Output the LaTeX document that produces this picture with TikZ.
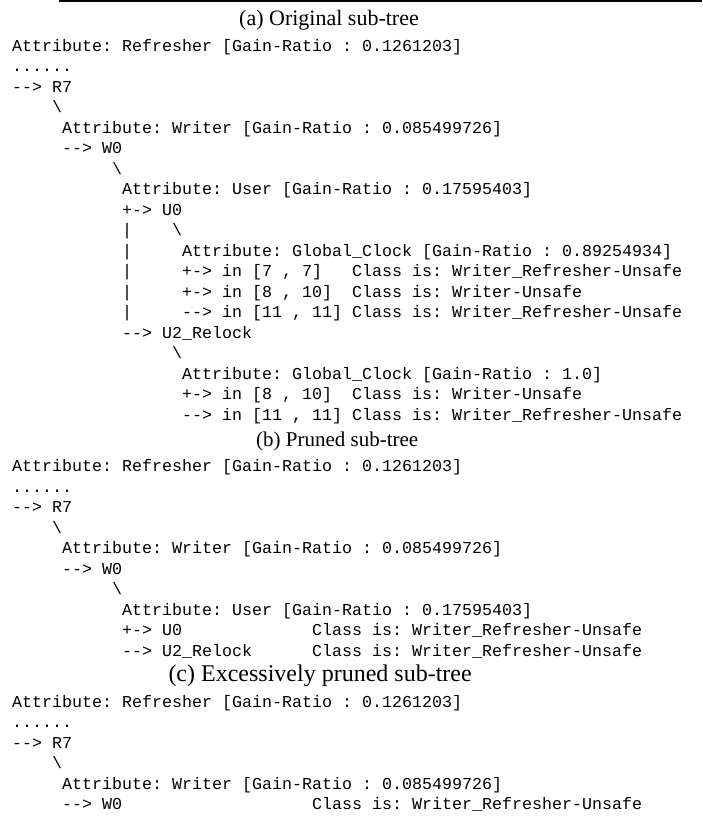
\documentclass[tikz,border=0pt]{standalone}
\usepackage{fontspec}
\setmainfont{Liberation Serif}
\setmonofont{Liberation Mono}
\begin{document}
\begin{tikzpicture}[x=1pt,y=-1pt,
  mono/.style={anchor=base west, inner sep=0pt, font=\ttfamily\fontsize{16.66}{20}\selectfont},
  captxt/.style={anchor=base west, inner sep=0pt, font=\rmfamily\fontsize{#1}{28}\selectfont},
  rulestyle/.style={line width=1.5pt}]
\useasboundingbox (0,0) rectangle (702,816);
\def\c#1{12+#1*10}
% top rule
\coordinate (rl) at (59,0.8);
\coordinate (rr) at (702,0.8);
\draw[rulestyle] (rl) -- (rr);
% ---------------- (a)
\node[captxt=22] (capa) at (239,25.5) {(a)\ Original sub-tree};
\node[mono] (a0) at (\c{0},51.3) {Attribute: Refresher [Gain-Ratio : 0.1261203]};
\node[mono] (a1) at (\c{0},71.8) {......};
\node[mono] (a2) at (\c{0},92.3) {--> R7};
\node[mono] (a3) at (\c{4},112.8) {\textbackslash};
\node[mono] (a4) at (\c{5},133.3) {Attribute: Writer [Gain-Ratio : 0.085499726]};
\node[mono] (a5) at (\c{5},153.8) {--> W0};
\node[mono] (a6) at (\c{10},174.3) {\textbackslash};
\node[mono] (a7) at (\c{11},194.8) {Attribute: User [Gain-Ratio : 0.17595403]};
\node[mono] (a8) at (\c{11},215.3) {+-> U0};
\node[mono] (a9b) at (\c{11},235.8) {|};
\node[mono] (a9) at (\c{16},235.8) {\textbackslash};
\node[mono] (a10b) at (\c{11},256.3) {|};
\node[mono] (a10) at (\c{17},256.3) {Attribute: Global\_Clock [Gain-Ratio : 0.89254934]};
\node[mono] (a11b) at (\c{11},276.8) {|};
\node[mono] (a11) at (\c{17},276.8) {+-> in [7 , 7]};
\node[mono] (a11c) at (\c{34},276.8) {Class is: Writer\_Refresher-Unsafe};
\node[mono] (a12b) at (\c{11},297.3) {|};
\node[mono] (a12) at (\c{17},297.3) {+-> in [8 , 10]};
\node[mono] (a12c) at (\c{34},297.3) {Class is: Writer-Unsafe};
\node[mono] (a13b) at (\c{11},317.8) {|};
\node[mono] (a13) at (\c{17},317.8) {--> in [11 , 11]};
\node[mono] (a13c) at (\c{34},317.8) {Class is: Writer\_Refresher-Unsafe};
\node[mono] (a14) at (\c{11},338.3) {--> U2\_Relock};
\node[mono] (a15) at (\c{16},358.8) {\textbackslash};
\node[mono] (a16) at (\c{17},379.3) {Attribute: Global\_Clock [Gain-Ratio : 1.0]};
\node[mono] (a17) at (\c{17},399.8) {+-> in [8 , 10]};
\node[mono] (a17c) at (\c{34},399.8) {Class is: Writer-Unsafe};
\node[mono] (a18) at (\c{17},420.3) {--> in [11 , 11]};
\node[mono] (a18c) at (\c{34},420.3) {Class is: Writer\_Refresher-Unsafe};
% ---------------- (b)
\node[captxt=21] (capb) at (256,446.7) {(b)\ Pruned sub-tree};
\node[mono] (b0) at (\c{0},471.8) {Attribute: Refresher [Gain-Ratio : 0.1261203]};
\node[mono] (b1) at (\c{0},492.3) {......};
\node[mono] (b2) at (\c{0},512.8) {--> R7};
\node[mono] (b3) at (\c{4},533.3) {\textbackslash};
\node[mono] (b4) at (\c{5},553.8) {Attribute: Writer [Gain-Ratio : 0.085499726]};
\node[mono] (b5) at (\c{5},574.3) {--> W0};
\node[mono] (b6) at (\c{10},594.8) {\textbackslash};
\node[mono] (b7) at (\c{11},615.3) {Attribute: User [Gain-Ratio : 0.17595403]};
\node[mono] (b8) at (\c{11},635.8) {+-> U0};
\node[mono] (b8c) at (\c{30},635.8) {Class is: Writer\_Refresher-Unsafe};
\node[mono] (b9) at (\c{11},656.3) {--> U2\_Relock};
\node[mono] (b9c) at (\c{30},656.3) {Class is: Writer\_Refresher-Unsafe};
% ---------------- (c)
\node[captxt=24] (capc) at (168.3,681) {(c)\ Excessively pruned sub-tree};
\node[mono] (c0) at (\c{0},707.3) {Attribute: Refresher [Gain-Ratio : 0.1261203]};
\node[mono] (c1) at (\c{0},727.8) {......};
\node[mono] (c2) at (\c{0},748.3) {--> R7};
\node[mono] (c3) at (\c{4},768.8) {\textbackslash};
\node[mono] (c4) at (\c{5},789.3) {Attribute: Writer [Gain-Ratio : 0.085499726]};
\node[mono] (c5) at (\c{5},809.8) {--> W0};
\node[mono] (c5c) at (\c{30},809.8) {Class is: Writer\_Refresher-Unsafe};
\end{tikzpicture}
\end{document}
